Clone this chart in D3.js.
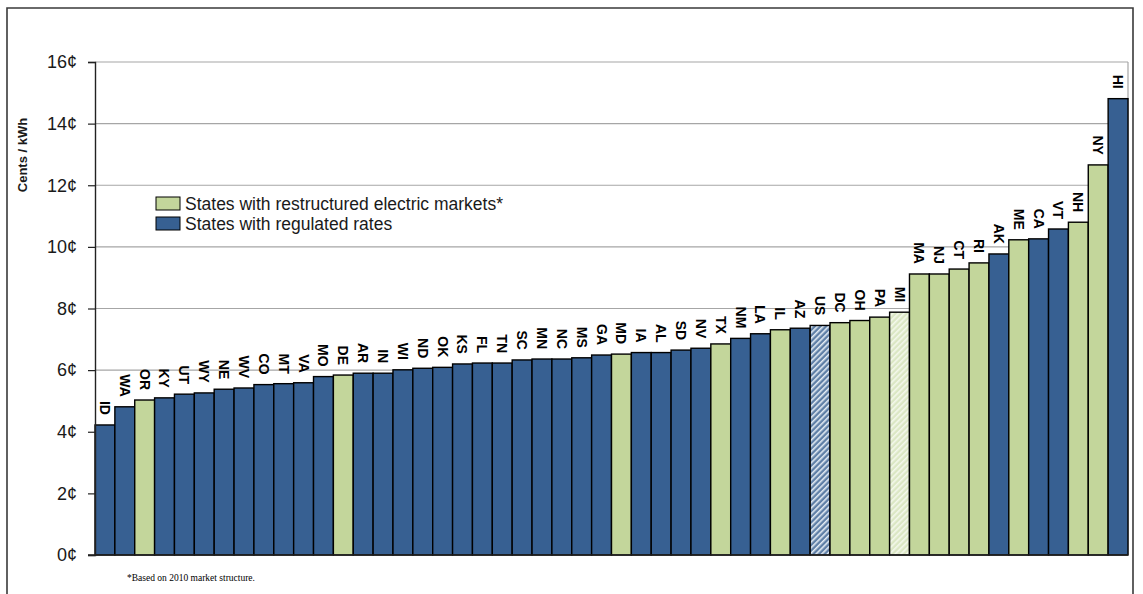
<!DOCTYPE html>
<html>
<head>
<meta charset="utf-8">
<script src="https://cdn.jsdelivr.net/npm/d3@7"></script>
<style>
  body { margin: 0; background: #fff; }
  svg { display: block; font-family: "Liberation Sans", Arial, sans-serif; }
</style>
</head>
<body>
<svg width="1143" height="594"></svg>
<script>
// states sorted by average retail price, cents / kWh
const states = ['ID','WA','OR','KY','UT','WY','NE','WV','CO','MT','VA','MO','DE','AR','IN','WI','ND','OK','KS','FL','TN','SC','MN','NC','MS','GA','MD','IA','AL','SD','NV','TX','NM','LA','IL','AZ','US','DC','OH','PA','MI','MA','NJ','CT','RI','AK','ME','CA','VT','NH','NY','HI']
const prices = [4.22,4.81,5.03,5.10,5.22,5.26,5.38,5.42,5.53,5.56,5.59,5.79,5.84,5.90,5.90,6.01,6.06,6.09,6.20,6.23,6.23,6.33,6.36,6.36,6.40,6.49,6.52,6.57,6.57,6.65,6.71,6.85,7.03,7.18,7.31,7.36,7.45,7.54,7.61,7.72,7.88,9.12,9.12,9.28,9.48,9.77,10.23,10.26,10.58,10.80,12.66,14.81]
// 'S' = restructured, 'R' = regulated, 'US' = national average, 'MI' = partial restructuring
const market = ['R','R','S','R','R','R','R','R','R','R','R','R','S','R','R','R','R','R','R','R','R','R','R','R','R','R','S','R','R','R','R','S','R','R','S','R','US','S','S','S','MI','S','S','S','S','R','S','R','R','S','S','R']
const yTicks = [0,2,4,6,8,10,12,14,16]
const legendLabels = ['States with restructured electric markets*','States with regulated rates']

function draw() {
  const svg = d3.select('svg')
  const left = 95, right = 1128, top = 62, bottom = 555

  const green = '#c3d69b'
  const blue = '#376092'

  const defs = svg.append('defs')
  const usPat = defs.append('pattern')
    .attr('id', 'hatchUS')
    .attr('patternUnits', 'userSpaceOnUse')
    .attr('width', 4).attr('height', 4)
    .attr('patternTransform', 'rotate(45)')
  usPat.append('rect').attr('width', 4).attr('height', 4).attr('fill', '#5f7fa6')
  usPat.append('rect').attr('width', 1.6).attr('height', 4).attr('fill', '#e4ecf4')
  const miPat = defs.append('pattern')
    .attr('id', 'hatchMI')
    .attr('patternUnits', 'userSpaceOnUse')
    .attr('width', 4).attr('height', 4)
    .attr('patternTransform', 'rotate(45)')
  miPat.append('rect').attr('width', 4).attr('height', 4).attr('fill', '#dbe7c4')
  miPat.append('rect').attr('width', 1.6).attr('height', 4).attr('fill', '#f4f8ec')

  function fillFor(m) {
    if (m == 'S') return green
    if (m == 'R') return blue
    if (m == 'US') return 'url(#hatchUS)'
    return 'url(#hatchMI)'
  }

  // outer frame
  svg.append('path')
    .attr('d', 'M7,600 L7,8 L1133,8 L1133,600')
    .attr('fill', 'none')
    .attr('stroke', '#3a3a3a')
    .attr('stroke-width', 1.6)

  const x = d3.scaleBand()
    .domain(states)
    .range([left, right])
    .padding(0)
  const y = d3.scaleLinear()
    .domain([0, 16])
    .range([bottom, top])

  // gridlines
  svg.append('g')
    .selectAll('line')
    .data(yTicks.filter(d => d > 0))
    .enter()
    .append('line')
    .attr('x1', left).attr('x2', right)
    .attr('y1', d => y(d)).attr('y2', d => y(d))
    .attr('stroke', '#a6a6a6')
    .attr('stroke-width', 1.2)
  svg.append('line')
    .attr('x1', right).attr('x2', right)
    .attr('y1', top).attr('y2', bottom)
    .attr('stroke', '#a6a6a6')
    .attr('stroke-width', 1.2)

  // bars
  svg.append('g')
    .selectAll('rect')
    .data(states)
    .enter()
    .append('rect')
    .attr('x', d => x(d))
    .attr('width', x.bandwidth())
    .attr('y', (d, i) => y(prices[i]))
    .attr('height', (d, i) => y(0) - y(prices[i]))
    .attr('fill', (d, i) => fillFor(market[i]))
    .attr('stroke', '#000')
    .attr('stroke-width', 1.4)

  // state labels above bars, reading downward
  svg.append('g')
    .selectAll('text')
    .data(states)
    .enter()
    .append('text')
    .attr('transform', (d, i) => `translate(${x(d) + x.bandwidth() / 2},${y(prices[i]) - 10}) rotate(90)`)
    .attr('text-anchor', 'end')
    .attr('dy', '0.36em')
    .attr('font-size', 14)
    .attr('font-weight', 'bold')
    .attr('fill', '#000')
    .text(d => d)

  // y axis
  const yAxis = svg.append('g')
    .attr('transform', `translate(${left},0)`)
    .call(d3.axisLeft(y).tickValues(yTicks).tickSize(7).tickPadding(11).tickFormat(d => d + '¢'))
  yAxis.select('.domain').attr('stroke', '#222').attr('stroke-width', 1.4)
  yAxis.selectAll('.tick line').attr('stroke', '#222').attr('stroke-width', 1.2)
  yAxis.selectAll('.tick text')
    .attr('font-size', 18)
    .attr('font-family', '"Liberation Sans", Arial, sans-serif')
    .attr('fill', '#1a1a1a')

  // baseline
  svg.append('line')
    .attr('x1', left - 7).attr('x2', right)
    .attr('y1', bottom).attr('y2', bottom)
    .attr('stroke', '#222')
    .attr('stroke-width', 1.4)

  svg.append('text')
    .attr('transform', 'translate(27,155) rotate(-90)')
    .attr('text-anchor', 'middle')
    .attr('font-size', 13)
    .attr('font-weight', 'bold')
    .attr('fill', '#1a1a1a')
    .text('Cents / kWh')

  // legend
  const legend = svg.append('g').attr('transform', 'translate(156,197)')
  legendLabels.forEach((label, i) => {
    legend.append('rect')
      .attr('x', 0).attr('y', i * 20)
      .attr('width', 24).attr('height', 13)
      .attr('fill', i == 0 ? green : blue)
      .attr('stroke', '#000')
      .attr('stroke-width', 1)
    legend.append('text')
      .attr('x', 29).attr('y', i * 20 + 13)
      .attr('font-size', 17.5)
      .attr('fill', '#1a1a1a')
      .text(label)
  })

  svg.append('text')
    .attr('x', 127).attr('y', 581)
    .attr('font-family', '"Liberation Serif", "Times New Roman", serif')
    .attr('font-size', 9.5)
    .attr('fill', '#000')
    .text('*Based on 2010 market structure.')
}

draw()
</script>
</body>
</html>
